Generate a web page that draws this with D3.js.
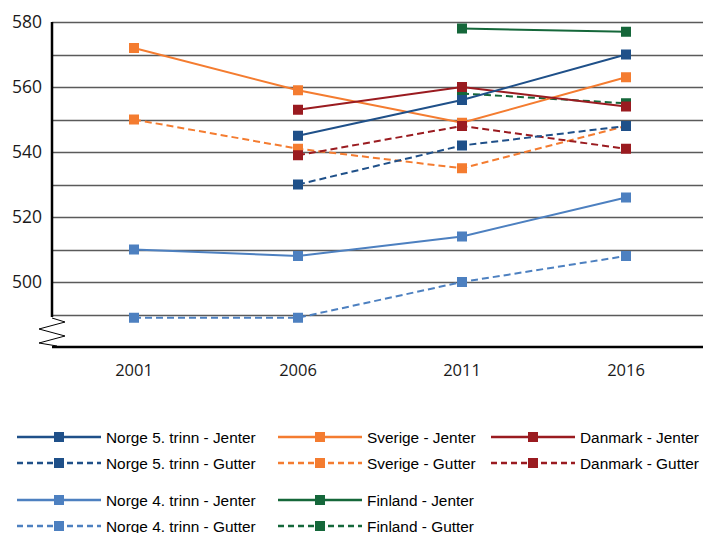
<!DOCTYPE html>
<html>
<head>
<meta charset="utf-8">
<script src="https://cdn.jsdelivr.net/npm/d3@7"></script>
<style>
  body { margin: 0; background: #fff; }
  svg { display: block; }
</style>
</head>
<body>
<div id="chart"></div>
<script>
const years = ['2001', '2006', '2011', '2016'];
const yTicks = [500, 520, 540, 560, 580];
const gridValues = [490, 500, 510, 520, 530, 540, 550, 560, 570, 580];

// null = no value that year
const norge5Jenter = [null, 545, 556, 570];
const norge5Gutter = [null, 530, 542, 548];
const sverigeJenter = [572, 559, 549, 563];
const sverigeGutter = [550, 541, 535, 548];
const danmarkJenter = [null, 553, 560, 554];
const danmarkGutter = [null, 539, 548, 541];
const norge4Jenter = [510, 508, 514, 526];
const norge4Gutter = [489, 489, 500, 508];
const finlandJenter = [null, null, 578, 577];
const finlandGutter = [null, null, 558, 555];

const series = [
    { name: 'Norge 5. trinn - Jenter', values: norge5Jenter, color: '#1f5089', dash: false, z: 3 },
    { name: 'Norge 5. trinn - Gutter', values: norge5Gutter, color: '#1f5089', dash: true, z: 3 },
    { name: 'Sverige - Jenter', values: sverigeJenter, color: '#f47c30', dash: false, z: 1 },
    { name: 'Sverige - Gutter', values: sverigeGutter, color: '#f47c30', dash: true, z: 1 },
    { name: 'Danmark - Jenter', values: danmarkJenter, color: '#9a1b20', dash: false, z: 2 },
    { name: 'Danmark - Gutter', values: danmarkGutter, color: '#9a1b20', dash: true, z: 2 },
    { name: 'Norge 4. trinn - Jenter', values: norge4Jenter, color: '#4d80c0', dash: false, z: 4 },
    { name: 'Norge 4. trinn - Gutter', values: norge4Gutter, color: '#4d80c0', dash: true, z: 4 },
    { name: 'Finland - Jenter', values: finlandJenter, color: '#15673a', dash: false, z: 0 },
    { name: 'Finland - Gutter', values: finlandGutter, color: '#15673a', dash: true, z: 0 }
];

// legend layout: [column, row]
const legendPos = [[0, 0], [0, 1], [1, 0], [1, 1], [2, 0], [2, 1], [0, 2], [0, 3], [1, 2], [1, 3]];

const WIDTH = 703;
const HEIGHT = 533;
const LEFT = 52;
const TOP = 22;
const BOTTOM_AXIS = 347;

const svg = d3.select('#chart')
    .append('svg')
    .attr('width', WIDTH)
    .attr('height', HEIGHT);

const xScale = d3.scalePoint()
    .domain(years)
    .range([134, 626]);

const yScale = d3.scaleLinear()
    .domain([500, 580])
    .range([282, TOP]);

// Grid
svg.selectAll('line.grid')
    .data(gridValues)
    .enter()
    .append('line')
    .attr('class', 'grid')
    .attr('x1', LEFT)
    .attr('x2', WIDTH)
    .attr('y1', d => Math.round(yScale(d)) + 0.5)
    .attr('y2', d => Math.round(yScale(d)) + 0.5)
    .attr('stroke', '#5a5a5a')
    .attr('stroke-width', 1.3);

// Y axis with break
const yLow = Math.round(yScale(490));
svg.append('line')
    .attr('x1', LEFT).attr('x2', LEFT)
    .attr('y1', TOP).attr('y2', yLow + 2)
    .attr('stroke', '#000')
    .attr('stroke-width', 2.5);

svg.append('path')
    .attr('d', `M${LEFT},${yLow + 3} L${LEFT + 13},${yLow + 7} L${LEFT - 13},${yLow + 14} L${LEFT + 13},${yLow + 21} L${LEFT - 13},${yLow + 28} L${LEFT + 5},${yLow + 31}`)
    .attr('fill', 'none')
    .attr('stroke', '#000')
    .attr('stroke-width', 1);

svg.append('line')
    .attr('x1', LEFT).attr('x2', WIDTH)
    .attr('y1', BOTTOM_AXIS).attr('y2', BOTTOM_AXIS)
    .attr('stroke', '#000')
    .attr('stroke-width', 2.5);

svg.selectAll('text.ytick')
    .data(yTicks)
    .enter()
    .append('text')
    .attr('class', 'ytick')
    .attr('x', 42)
    .attr('y', d => yScale(d) + 5.5)
    .attr('text-anchor', 'end')
    .attr('font-family', 'Open Sans, sans-serif')
    .attr('font-size', 17.5)
    .attr('fill', '#1a1a1a')
    .text(d => d);

svg.selectAll('text.xtick')
    .data(years)
    .enter()
    .append('text')
    .attr('class', 'xtick')
    .attr('x', d => xScale(d))
    .attr('y', 376)
    .attr('text-anchor', 'middle')
    .attr('font-family', 'Open Sans, sans-serif')
    .attr('font-size', 16.5)
    .attr('fill', '#1a1a1a')
    .text(d => d);

// Lines, drawn back to front
const line = d3.line()
    .defined(d => d.v !== null)
    .x(d => xScale(d.year))
    .y(d => yScale(d.v));

const drawOrder = series.slice().sort((a, b) => a.z - b.z);

const groups = svg.selectAll('g.series')
    .data(drawOrder)
    .enter()
    .append('g')
    .attr('class', 'series');

groups.append('path')
    .attr('d', s => line(s.values.map((v, i) => ({ year: years[i], v: v }))))
    .attr('fill', 'none')
    .attr('stroke', s => s.color)
    .attr('stroke-width', 2)
    .attr('stroke-dasharray', s => s.dash ? '7,4' : null);

groups.selectAll('rect')
    .data(s => s.values.map((v, i) => ({ year: years[i], v: v, color: s.color })).filter(d => d.v !== null))
    .enter()
    .append('rect')
    .attr('x', d => xScale(d.year) - 5)
    .attr('y', d => yScale(d.v) - 5)
    .attr('width', 10)
    .attr('height', 10)
    .attr('fill', d => d.color);

// Legend
const colX = [17, 278, 491];
const rowY = [437, 463, 500, 526];

const legend = svg.selectAll('g.legend')
    .data(series)
    .enter()
    .append('g')
    .attr('class', 'legend')
    .attr('transform', (d, i) => `translate(${colX[legendPos[i][0]]},${rowY[legendPos[i][1]]})`);

legend.append('line')
    .attr('x1', 0).attr('x2', 84)
    .attr('y1', 0).attr('y2', 0)
    .attr('stroke', d => d.color)
    .attr('stroke-width', 2.5)
    .attr('stroke-dasharray', d => d.dash ? '6,4' : null);

legend.append('rect')
    .attr('x', 37).attr('y', -5)
    .attr('width', 10).attr('height', 10)
    .attr('fill', d => d.color);

legend.append('text')
    .attr('x', 89)
    .attr('y', 5.5)
    .attr('font-family', 'Liberation Sans, Arial, sans-serif')
    .attr('font-size', 15.4)
    .attr('fill', '#000')
    .text(d => d.name);
</script>
</body>
</html>
